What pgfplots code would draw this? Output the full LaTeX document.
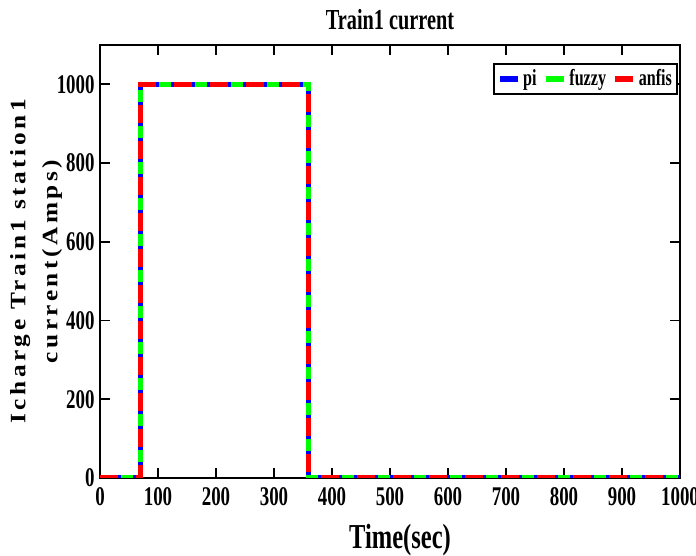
\documentclass[border=0pt]{standalone}
\usepackage{fontspec}
\setmainfont{Liberation Serif}[FakeStretch=0.7]
\newfontfamily\ylabfont{Liberation Serif}[FakeStretch=1.15, LetterSpace=16]
\usepackage{pgfplots}
\pgfplotsset{compat=1.18}
\begin{document}
\begin{tikzpicture}
\begin{axis}[
  scale only axis,
  width=290pt, height=216.5pt,
  xmin=0, xmax=1000, ymin=0, ymax=1100,
  xtick={0,100,...,1000},
  ytick={0,200,...,1000},
  tick align=inside,
  major tick length=5pt,
  axis line style={black, line width=1.1pt},
  major tick style={black, line width=0.9pt},
  /pgf/number format/assume math mode=true,
  /pgf/number format/1000 sep={},
  ticklabel style={font=\fontsize{13.5}{15}\selectfont\bfseries},
  xticklabel style={anchor=center, yshift=-9.5pt},
  yticklabel style={anchor=east, inner sep=0pt, xshift=-2.5pt},
  title={\bfseries Train1 current},
  title style={font=\fontsize{14.5}{16}\selectfont, at={(0.5,1)}, anchor=center, yshift=6.5pt},
  xlabel={\bfseries Time(sec)},
  xlabel style={font=\fontsize{17.5}{19}\selectfont, at={(0.5,0)}, anchor=center, yshift=-31pt, xshift=5pt},
  ylabel={\bfseries Icharge Train1 station1\\\bfseries current(Amps)},
  ylabel style={font=\ylabfont\fontsize{11}{16}\selectfont, align=center,
    at={(-0.11,0.5)}, anchor=center},
  legend columns=-1,
  legend style={at={(0.997,0.958)}, anchor=north east, draw=black, line width=0.9pt,
    font=\fontsize{11.5}{12}\selectfont\bfseries, inner sep=1.5pt,
    nodes={inner sep=1.2pt},
    /tikz/every odd column/.append style={column sep=0pt},
    /tikz/every even column/.append style={column sep=2pt}},
  legend image code/.code={\draw[#1, solid, line width=3pt] (0cm,0cm) -- (9pt,0cm);},
]
\addplot[blue, line width=2.6pt] coordinates {(0,0) (70,0) (70,1000) (360,1000) (360,0) (1000,0)};
\addlegendentry{pi}
\addplot[green, line width=2.6pt, dash pattern=on 6pt off 12pt, dash phase=7.5pt] coordinates {(0,0) (70,0) (70,1000) (360,1000) (360,0) (1000,0)};
\addlegendentry{fuzzy}
\addplot[red, line width=2.6pt, dash pattern=on 9pt off 9pt] coordinates {(0,0) (70,0) (70,1000) (360,1000) (360,0) (1000,0)};
\addlegendentry{anfis}
\end{axis}
\pgfresetboundingbox
\path ([xshift=-50pt,yshift=-39pt]current axis.south west) rectangle ([xshift=8pt,yshift=22.5pt]current axis.north east);
\end{tikzpicture}
\end{document}
